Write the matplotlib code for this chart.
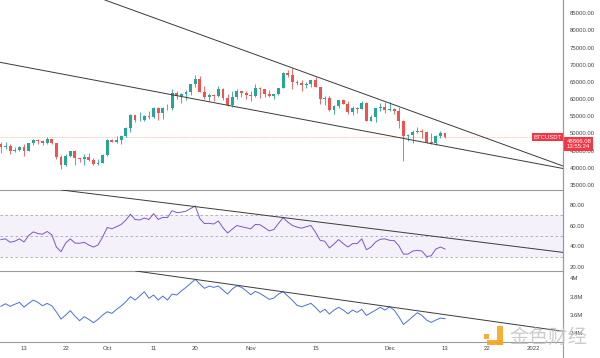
import matplotlib
matplotlib.use('Agg')
import matplotlib.pyplot as plt
import matplotlib.dates as mdates
from matplotlib.lines import Line2D
from matplotlib.patches import Rectangle
import numpy as np
import pandas as pd

plt.rcParams['font.family'] = ['Liberation Sans', 'DejaVu Sans']

# daily BTCUSDT candles, 2021-09-08 .. 2021-12-13
opens = [46863, 46048, 46395, 44842, 45174, 46026, 44950, 47103, 48122, 47737, 47299, 48292,
         47242, 43016, 40730, 43546, 44866, 42810, 42670, 43160, 42147, 41025, 41522,
         43820, 48141, 47635, 48200, 49224, 51471, 55315, 53785, 53955, 54949, 54659, 57471,
         55996, 57370, 57347, 61672, 60875, 61528, 62005, 64280, 66002, 62193, 60689, 61286,
         60853, 63078, 60328, 58413, 60575, 62254, 61859,
         61300, 60911, 63220, 62897, 61396, 60941, 61471, 63273, 67525, 66947, 64882, 64775,
         64122, 64380, 65520, 63606, 60058, 60345, 56891, 58057, 59707, 58617, 56247, 57541,
         57139, 58960, 53723, 54716, 57274, 57776,
         56950, 57184, 56484, 53601, 49152, 49397, 50441, 50588, 50471, 47535, 47140, 49389, 50053]
highs = [47381, 47400, 47033, 45987, 46460, 46880, 47250, 48487, 48500, 48150, 48843, 48372,
         47350, 43639, 44000, 44978, 45200, 42966, 43950, 44350, 42787, 42590, 44132,
         48495, 48336, 49228, 49500, 51886, 55750, 55332, 56100, 55489, 56561, 57839, 57680,
         57777, 58532, 62933, 62350, 61718, 62695, 64486, 67000, 66639, 63732, 61747, 61500,
         63710, 63293, 61496, 62499, 62980, 62273, 62405,
         62437, 64270, 63500, 63086, 62595, 61560, 63286, 67789, 68524, 69000, 65600, 65474,
         65000, 65550, 66401, 63617, 60840, 60977, 58320, 59845, 60029, 59444, 57875, 57735,
         59398, 59150, 55280, 57445, 58865, 59176,
         59053, 57375, 57600, 53859, 49699, 50891, 51936, 51200, 50797, 50125, 49485, 50724, 50189]
lows = [44412, 45513, 44132, 44722, 44743, 43370, 44750, 46685, 47020, 46699, 47033, 46829,
        42500, 39600, 40565, 43069, 40675, 41646, 40750, 42098, 40888, 40753, 41410,
        43283, 47430, 47088, 46891, 49022, 50382, 53357, 53617, 53661, 54080, 54415, 53879,
        54167, 56818, 56850, 60150, 58963, 59844, 61322, 63481, 62000, 60000, 59562, 59510,
        60650, 59817, 58000, 57820, 60174, 60661, 59945,
        59405, 60624, 60382, 60677, 60721, 60050, 61322, 63273, 66382, 62822, 64100, 62333,
        63360, 63576, 63400, 58574, 58373, 56474, 55600, 57353, 58486, 55610, 55317, 55837,
        57000, 53500, 53610, 53256, 56666, 55875,
        56458, 55777, 51680, 42000, 47727, 47100, 50039, 48600, 47320, 46852, 46751, 48638, 48800]
closes = [46049, 46395, 44851, 45174, 46026, 44940, 47112, 48122, 47737, 47299, 48292, 47242,
          43015, 40734, 43543, 44865, 42810, 42670, 43160, 42147, 41026, 41522, 43790,
          48141, 47634, 48200, 49225, 51471, 55315, 53785, 53951, 54949, 54659, 57471, 55996,
          57367, 57347, 61672, 60875, 61528, 62009, 64280, 66001, 62193, 60688, 61286, 60852,
          63078, 60328, 58413, 60575, 62253, 61859, 61299,
          60911, 63219, 62896, 61395, 60937, 61470, 63273, 67525, 66947, 64882, 64775, 64122,
          64380, 65519, 63606, 60058, 60345, 56891, 58052, 59707, 58622, 56247, 57541, 57138,
          58960, 53726, 54721, 57274, 57776, 56950,
          57184, 56480, 53601, 49152, 49396, 50441, 50589, 50471, 47545, 47140, 49389, 50053, 48866]

rsi = [46.6, 47.3, 44.0, 45.0, 47.3, 44.3, 50.5, 54.0, 52.4, 51.8, 54.4, 51.2, 39.4, 34.9,
       43.3, 47.3, 43.3, 43.0, 44.0, 41.4, 39.4, 41.4, 49.2,
       58.3, 57.0, 59.0, 61.2, 65.4, 71.0, 66.0, 65.5, 67.4, 66.0, 71.6, 66.0, 68.0, 67.8,
       74.5, 72.6, 73.0, 74.0, 76.5, 79.0, 66.8, 62.0, 62.3, 61.6, 64.5, 58.0, 53.0, 56.6,
       60.2, 59.0, 58.0,
       57.0, 61.2, 60.9, 58.0, 55.0, 56.3, 62.2, 67.7, 63.5, 60.2, 58.6, 57.6, 59.0, 60.2,
       53.7, 45.9, 45.0, 38.5, 42.4, 46.6, 42.7, 39.4, 42.7, 42.7, 47.3, 36.8, 39.4, 44.3,
       46.9, 47.3,
       45.9, 45.6, 40.7, 32.6, 32.6, 35.5, 36.2, 35.5, 30.3, 30.9, 37.5, 39.4, 37.5]

# lower indicator, in millions
ind = [3.695, 3.723, 3.695, 3.717, 3.738, 3.687, 3.727, 3.763, 3.738, 3.701, 3.727, 3.701,
       3.633, 3.556, 3.600, 3.647, 3.589, 3.538, 3.582, 3.553, 3.516, 3.553, 3.600,
       3.636, 3.618, 3.662, 3.698, 3.745, 3.800, 3.763, 3.807, 3.854, 3.782, 3.818, 3.763,
       3.807, 3.763, 3.829, 3.818, 3.862, 3.902, 3.945, 3.989, 3.938, 3.891, 3.916, 3.902,
       3.916, 3.872, 3.829, 3.883, 3.920, 3.902, 3.865,
       3.821, 3.858, 3.836, 3.804, 3.771, 3.785, 3.829, 3.854, 3.807, 3.760, 3.706, 3.690,
       3.709, 3.727, 3.684, 3.629, 3.662, 3.611, 3.654, 3.684, 3.654, 3.614, 3.654, 3.629,
       3.662, 3.596, 3.625, 3.654, 3.684, 3.654,
       3.690, 3.654, 3.582, 3.498, 3.538, 3.582, 3.625, 3.596, 3.545, 3.520, 3.545, 3.567, 3.560]

last_price = 48866.08
price_ticks = [35000, 40000, 45000, 50000, 55000, 60000, 65000, 70000, 75000, 80000, 85000]
rsi_ticks = [20, 40, 60, 80]
ind_ticks = [3.4, 3.6, 3.8, 4.0]
ind_labels = ['3.4M', '3.6M', '3.8M', '4M']
date_ticks = ['2021-09-13', '2021-09-22', '2021-10-01', '2021-10-11', '2021-10-20', '2021-11-01',
              '2021-11-15', '2021-12-01', '2021-12-13', '2021-12-22', '2022-01-01']
date_labels = ['13', '22', 'Oct', '11', '20', 'Nov', '15', 'Dec', '13', '22', '2022']

# trend lines: (days after Sep 13, value) pairs
price_upper = [(59.65, 68275), (116.49, 40507)]
price_lower = [(-5.19, 70723), (116.49, 39779)]
rsi_line = [(44.52, 74.2), (94.23, 46.6)]
ind_line = [(44.52, 3.935), (94.23, 3.581)]

GREEN = '#26a69a'
RED = '#ef5350'
GRID = '#9a9a9a'

dates = pd.date_range('2021-09-08', '2021-12-13')
x = mdates.date2num(dates)
base = mdates.date2num(pd.Timestamp('2021-09-13'))

fig = plt.figure(figsize=(6, 3.58), dpi=100)
W = 563 / 600
ax1 = fig.add_axes([0, 168 / 358, W, 190 / 358])
ax2 = fig.add_axes([0, 87 / 358, W, 81 / 358], sharex=ax1)
ax3 = fig.add_axes([0, 16 / 358, W, 71 / 358], sharex=ax1)

o = np.array(opens); h = np.array(highs); l = np.array(lows); c = np.array(closes)
col = np.where(c >= o, GREEN, RED)
ax1.vlines(x, l, h, colors=col, lw=0.6, zorder=3)
body = np.maximum(np.abs(c - o), 150)
ax1.bar(x, body, bottom=np.minimum(o, c), width=0.62, color=col, edgecolor='none', zorder=4)

ax1.axhline(last_price, color='#f5b49c', lw=0.6, ls=(0, (1, 1)), zorder=2)
for pts in (price_upper, price_lower):
    ax1.axline((base + pts[0][0], pts[0][1]), (base + pts[1][0], pts[1][1]),
               color='#3a3a3a', lw=0.7, zorder=5)
ax1.set_ylim(33514, 88875)
ax1.set_yticks(price_ticks)
ax1.set_yticklabels(['%.2f' % p for p in price_ticks])

ax1.annotate('BTCUSDT', xy=(0.997, last_price), xycoords=('axes fraction', 'data'),
             ha='right', va='center', fontsize=4.3, color='white', zorder=10,
             bbox=dict(boxstyle='square,pad=0.25', fc='#f23645', ec='none'))
ax1.annotate('48866.08\n13:55:24', xy=(1.006, last_price - 1900), xycoords=('axes fraction', 'data'),
             ha='left', va='center', fontsize=4.3, color='white', zorder=10,
             linespacing=1.05, annotation_clip=False,
             bbox=dict(boxstyle='square,pad=0.35', fc='#f23645', ec='none'))

ax2.axhspan(30, 70, color='#7e57c2', alpha=0.08, lw=0)
for lvl in (30, 50, 70):
    ax2.axhline(lvl, color='#a3a6b4', lw=0.6, ls=(0, (3, 3)))
ax2.plot(x, rsi, color='#7e57c2', lw=0.7)
ax2.axline((base + rsi_line[0][0], rsi_line[0][1]), (base + rsi_line[1][0], rsi_line[1][1]),
           color='#3a3a3a', lw=0.7)
ax2.set_ylim(16.3, 94.4)
ax2.set_yticks(rsi_ticks)
ax2.set_yticklabels(['%.2f' % v for v in rsi_ticks])

ax3.plot(x, ind, color='#4a6fdc', lw=0.7)
ax3.axline((base + ind_line[0][0], ind_line[0][1]), (base + ind_line[1][0], ind_line[1][1]),
           color='#3a3a3a', lw=0.7)
ax3.set_ylim(3.306, 4.08)
ax3.set_yticks(ind_ticks)
ax3.set_yticklabels(ind_labels)

ax1.set_xlim(base - 5.19, base + 116.49)
ax3.set_xticks(mdates.date2num(pd.to_datetime(date_ticks)))
ax3.set_xticklabels(date_labels)

for ax in (ax1, ax2, ax3):
    ax.yaxis.tick_right()
    ax.tick_params(axis='y', length=0, pad=5, labelsize=4.3, labelcolor='#444444')
    ax.tick_params(axis='x', length=0, pad=3, labelsize=4.3, labelcolor='#444444')
    for s in ('top', 'left'):
        ax.spines[s].set_visible(False)
    ax.spines['right'].set_color(GRID)
    ax.spines['right'].set_linewidth(0.8)
    ax.spines['bottom'].set_color(GRID)
    ax.spines['bottom'].set_linewidth(0.8)
    ax.set_facecolor('none')
for ax in (ax1, ax2):
    ax.tick_params(axis='x', labelbottom=False)

fig.add_artist(Line2D([W, W], [0, 1], color=GRID, lw=0.8, transform=fig.transFigure))

# watermark
fig.patches.append(Rectangle((484 / 600, (358 - 339) / 358), 5 / 600, 5 / 358,
                             transform=fig.transFigure, fc='#f5a623', ec='none', alpha=0.9))
fig.patches.append(Rectangle((497 / 600, (358 - 345) / 358), 6 / 600, 19 / 358,
                             transform=fig.transFigure, fc='#f5a623', ec='none', alpha=0.9))
fig.patches.append(Rectangle((487 / 600, (358 - 345) / 358), 16 / 600, 5 / 358,
                             transform=fig.transFigure, fc='#f5a623', ec='none', alpha=0.9))
fig.text(509 / 600, (358 - 337) / 358, '金色财经', family=['Noto Sans CJK SC', 'DejaVu Sans'],
         fontsize=14, color='#c4c4c4', alpha=0.85, va='center', ha='left')

fig.savefig('out.png', dpi=100, facecolor='white')
